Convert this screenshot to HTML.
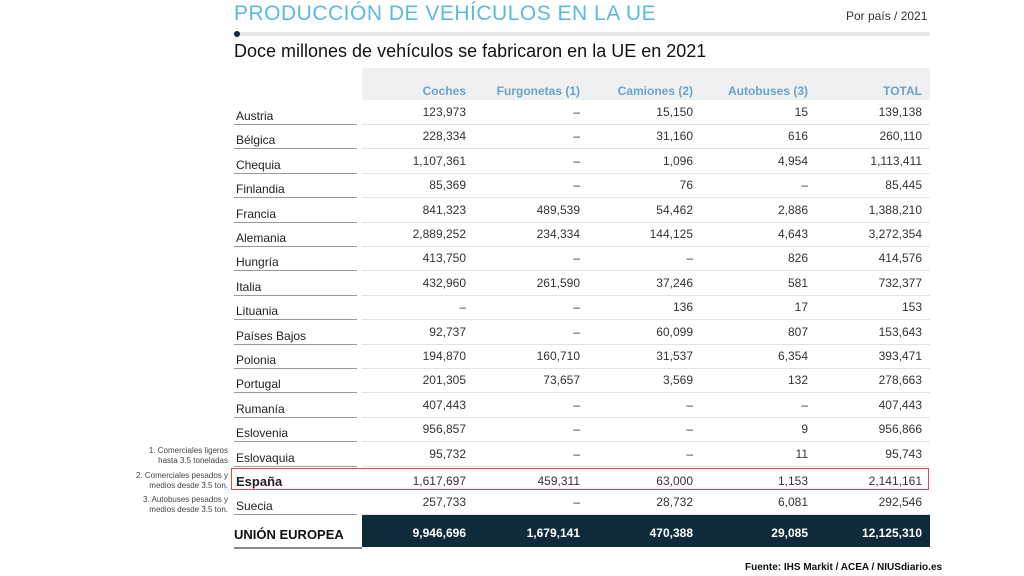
<!DOCTYPE html>
<html><head><meta charset="utf-8">
<style>
body{margin:0;width:1024px;height:576px;background:#fff;font-family:"Liberation Sans",sans-serif;position:relative;overflow:hidden}
.a{position:absolute;white-space:nowrap}
.num{position:absolute;font-size:12px;color:#333;text-align:right;width:110px;line-height:14px}
.lbl{position:absolute;font-size:12px;color:#222;line-height:14px}
.hd{position:absolute;font-size:12px;font-weight:bold;color:#6aa3c8;text-align:right;width:120px}
.fn{position:absolute;font-size:8px;color:#444;text-align:right;width:110px;line-height:10px}
</style></head><body>
<div class="a" style="left:234px;top:2px;font-size:21px;color:#5bbad9;letter-spacing:0.5px">PRODUCCIÓN DE VEHÍCULOS EN LA UE</div>
<div class="a" style="left:846px;top:9px;font-size:12px;color:#333">Por país / 2021</div>
<div class="a" style="left:236px;top:32px;width:694px;height:4px;background:#e8e8e8;border-radius:2px"></div>
<div class="a" style="left:234px;top:31px;width:6px;height:6px;background:#0f2a3a;border-radius:3px"></div>
<div class="a" style="left:234px;top:41px;font-size:18px;color:#111">Doce millones de vehículos se fabricaron en la UE en 2021</div>
<div class="a" style="left:362px;top:68px;width:568px;height:32px;background:#eef0f2"></div>
<div class="a" style="left:362px;top:515px;width:568px;height:32px;background:#0f2a3a"></div>
<div class="a" style="left:234px;top:547px;width:128px;height:2px;background:#888"></div>
<div class="a" style="left:234px;top:527px;font-size:13px;font-weight:bold;color:#111">UNIÓN EUROPEA</div>
<div class="a" style="left:231px;top:468px;width:696px;height:20px;border:1.5px solid #e0474f"></div>
<div class="fn" style="left:118px;top:446px">1. Comerciales ligeros<br>hasta 3.5 toneladas</div>
<div class="fn" style="left:118px;top:471px">2. Comerciales pesados y<br>medios desde 3.5 ton.</div>
<div class="fn" style="left:118px;top:495px">3. Autobuses pesados y<br>medios desde 3.5 ton.</div>
<div class="a" style="left:745px;top:562px;font-size:10px;color:#111;font-weight:bold">Fuente: IHS Markit / ACEA / NIUSdiario.es</div>
<div id="t"></div>
<script>
const headers=["Coches","Furgonetas (1)","Camiones (2)","Autobuses (3)","TOTAL"];
const countries=["Austria","Bélgica","Chequia","Finlandia","Francia","Alemania","Hungría","Italia","Lituania","Países Bajos","Polonia","Portugal","Rumanía","Eslovenia","Eslovaquia","España","Suecia"];
const coches=["123,973","228,334","1,107,361","85,369","841,323","2,889,252","413,750","432,960","–","92,737","194,870","201,305","407,443","956,857","95,732","1,617,697","257,733"];
const furgonetas=["–","–","–","–","489,539","234,334","–","261,590","–","–","160,710","73,657","–","–","–","459,311","–"];
const camiones=["15,150","31,160","1,096","76","54,462","144,125","–","37,246","136","60,099","31,537","3,569","–","–","–","63,000","28,732"];
const autobuses=["15","616","4,954","–","2,886","4,643","826","581","17","807","6,354","132","–","9","11","1,153","6,081"];
const totals=["139,138","260,110","1,113,411","85,445","1,388,210","3,272,354","414,576","732,377","153","153,643","393,471","278,663","407,443","956,866","95,743","2,141,161","292,546"];
const euTotals=["9,946,696","1,679,141","470,388","29,085","12,125,310"];
const t=document.getElementById('t');
const colRight=[466,580,693,808,922];
const dashCenter=[null,575,null,null,null];
const cols=[coches,furgonetas,camiones,autobuses,totals];
const rowY=i=>105+i*24.4;
headers.forEach((h,c)=>{const d=document.createElement('div');d.className='hd';d.style.left=(colRight[c]-120)+'px';d.style.top='84px';d.textContent=h;


t.appendChild(d);});
countries.forEach((n,i)=>{
 const y=rowY(i);
 const l=document.createElement('div');l.className='lbl';l.style.left='236px';l.style.top=(y+4)+'px';l.textContent=n;
 if(n==='España'){l.style.fontWeight='bold';l.style.fontSize='13px';}
 
 
 t.appendChild(l);
 if(n!=='España'&&i<countries.length-1||i===countries.length-1){
 const u=document.createElement('div');u.className='a';u.style.cssText=`left:234px;top:${y+19}px;width:123px;height:1px;background:#999`;
 
 
 t.appendChild(u);
 const r=document.createElement('div');r.className='a';r.style.cssText=`left:362px;top:${y+19}px;width:568px;height:1px;background:#e2e2e2`;
 
 
 t.appendChild(r);}
 cols.forEach((arr,c)=>{const d=document.createElement('div');d.className='num';d.style.left=(colRight[c]-110)+'px';d.style.top=(y+0)+'px';d.textContent=arr[i];
 if(n==='España')d.style.top=(y+3)+'px';
 
 
 t.appendChild(d);});
});
euTotals.forEach((v,c)=>{const d=document.createElement('div');d.className='num';d.style.left=(colRight[c]-110)+'px';d.style.top='526px';d.style.color='#fff';d.style.fontWeight='bold';d.textContent=v;


t.appendChild(d);});
</script>
</body></html>
